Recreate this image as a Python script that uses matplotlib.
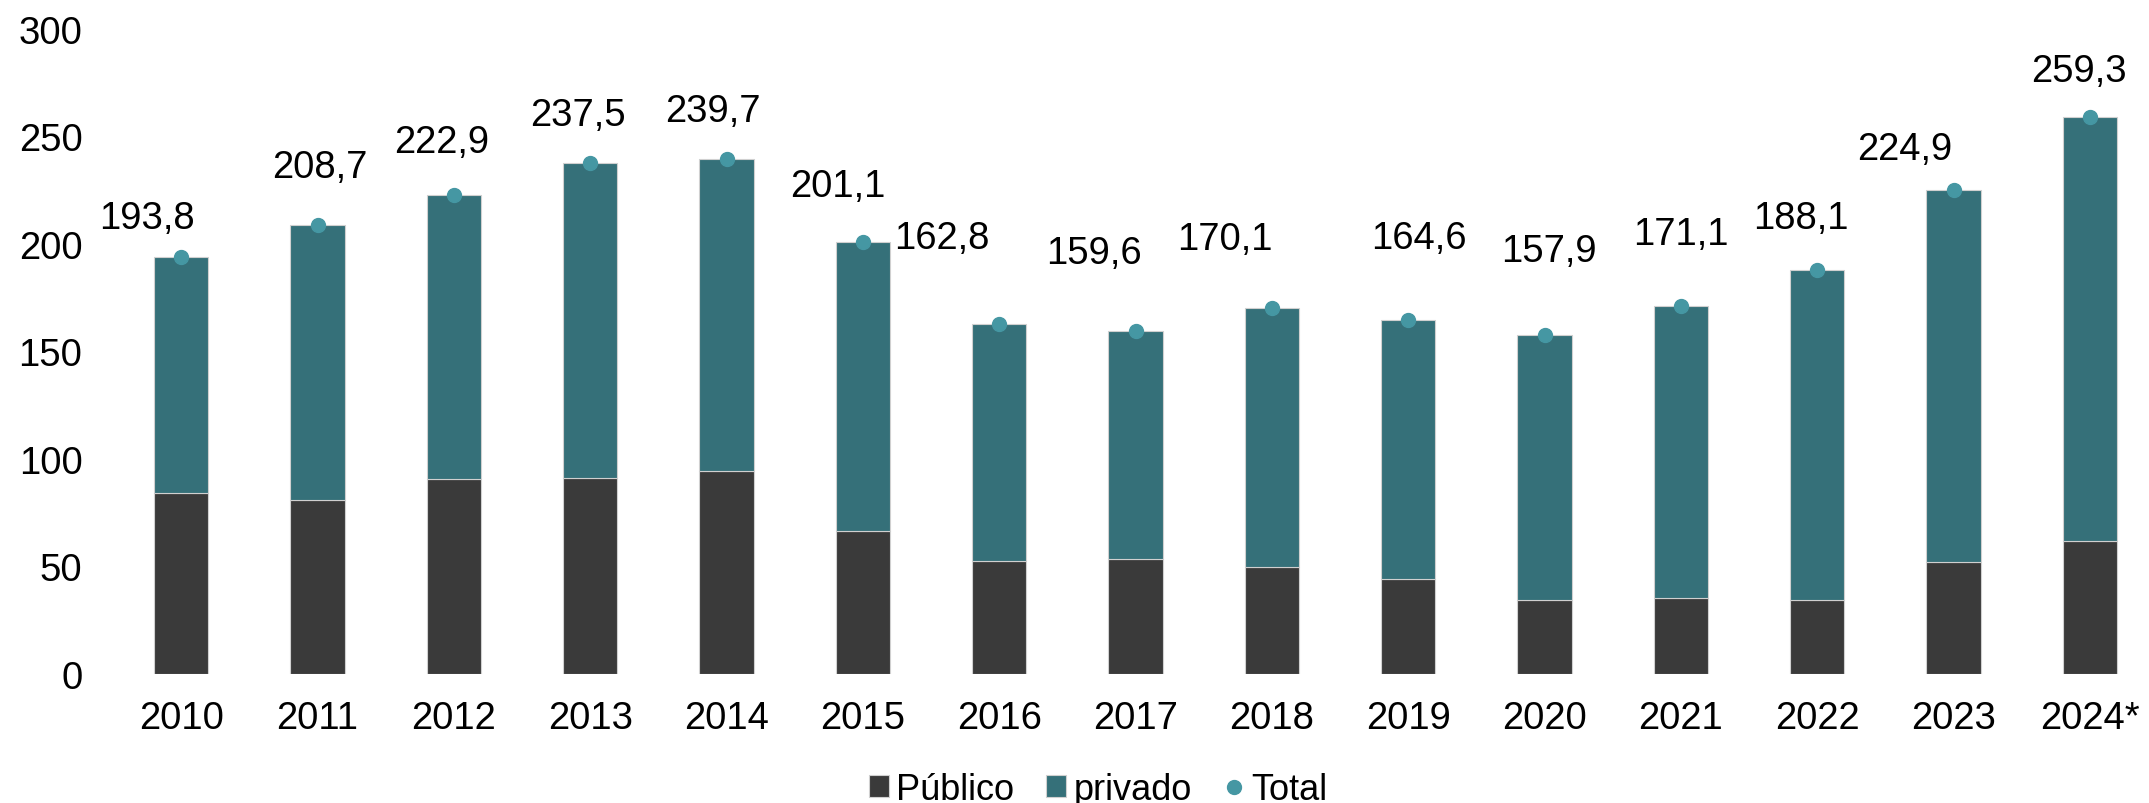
import numpy as np
import matplotlib.pyplot as plt

plt.rcParams['font.family'] = ['Liberation Sans', 'DejaVu Sans']

anos = ['2010', '2011', '2012', '2013', '2014', '2015', '2016', '2017',
        '2018', '2019', '2020', '2021', '2022', '2023', '2024*']
publico = [84.3, 80.9, 90.6, 91.3, 94.3, 66.5, 52.7, 53.6, 49.9, 44.0, 34.3, 35.5, 34.3, 52.0, 61.7]
total = [193.8, 208.7, 222.9, 237.5, 239.7, 201.1, 162.8, 159.6, 170.1, 164.6, 157.9, 171.1, 188.1, 224.9, 259.3]
privado = [t - p for t, p in zip(total, publico)]

# desplazamiento de las etiquetas (puntos), como en el original
dx = [-25, 2, -9, -9, -10, -18, -41, -30, -34, 8, 3, 0, -12, -35, -8]
dy = [28, 42, 38, 35, 34, 40, 62, 56, 50, 59, 60, 52, 37, 30, 33]

c_pub = '#3a3a3a'
c_priv = '#357079'
c_tot = '#4597a3'

fig = plt.figure(figsize=(21.49, 8.04), dpi=100)
ax = fig.add_axes([113 / 2149, 129 / 804, 2045 / 2149, 645 / 804])

x = np.arange(len(anos))
b1 = ax.bar(x, publico, 0.4, color=c_pub, edgecolor='#d0d0d0', linewidth=0.8, label='Público')
b2 = ax.bar(x, privado, 0.4, bottom=publico, color=c_priv, edgecolor='#d0d0d0', linewidth=0.8, label='privado')
l1, = ax.plot(x, total, 'o', color=c_tot, markersize=10, label='Total', zorder=3)

for i, t in enumerate(total):
    ax.annotate(f'{t:.1f}'.replace('.', ','), (x[i], t), xytext=(dx[i], dy[i]),
                textcoords='offset points', ha='center', va='center', fontsize=27.5)

ax.set_xlim(-0.5, 14.5)
ax.set_ylim(0, 300)
ax.set_yticks(range(0, 301, 50))
ax.set_xticks(x)
ax.set_xticklabels(anos)
ax.tick_params(axis='both', length=0, labelsize=27.5)
ax.tick_params(axis='x', pad=19)
ax.tick_params(axis='y', pad=22)
for s in ax.spines.values():
    s.set_visible(False)

fig.legend([b1, b2, l1], ['Público', 'privado', 'Total'], loc='lower center',
           bbox_to_anchor=(0.511, -0.045), ncol=3, frameon=False,
           fontsize=26, handlelength=0.55, handleheight=0.55, handletextpad=0.2,
           columnspacing=0.9)

fig.savefig('out.png', dpi=100)
